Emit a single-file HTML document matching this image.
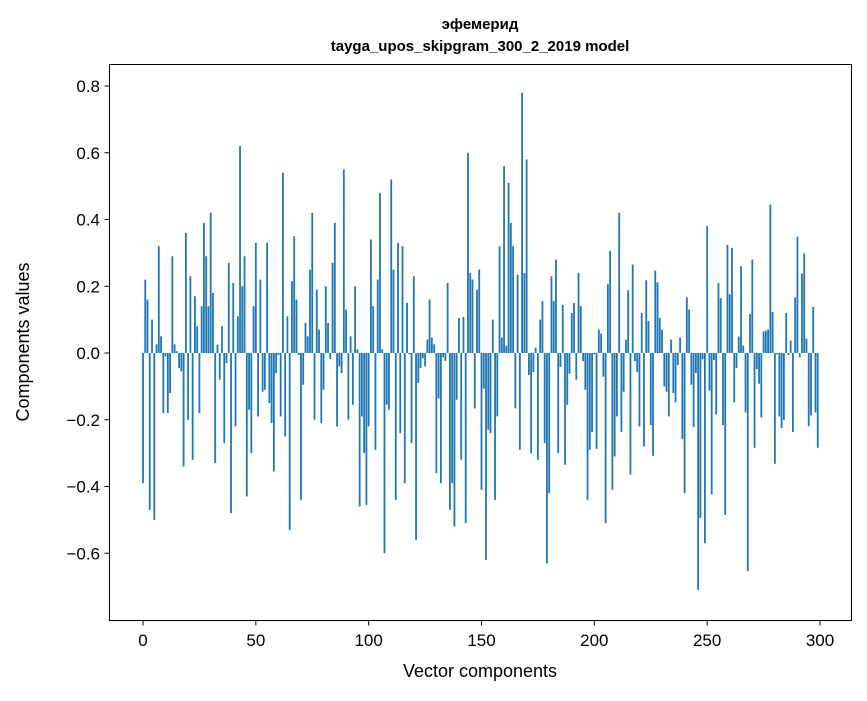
<!DOCTYPE html>
<html><head><meta charset="utf-8">
<style>
html,body{margin:0;padding:0;background:#fff;}
svg text{font-family:"Liberation Sans","DejaVu Sans",sans-serif;}
</style></head>
<body>
<svg id="chart" width="867" height="696" xmlns="http://www.w3.org/2000/svg">
<rect x="0" y="0" width="867" height="696" fill="#fff"/>
<text x="480" y="29" text-anchor="middle" font-size="15" font-weight="bold">эфемерид</text>
<text x="480" y="51" text-anchor="middle" font-size="15" font-weight="bold">tayga_upos_skipgram_300_2_2019 model</text>
<g id="bars"></g>
<g id="axes"></g>
<rect x="109.5" y="64.5" width="742" height="556" fill="none" stroke="#000" stroke-width="1"/>
<text x="480" y="677" text-anchor="middle" font-size="18">Vector components</text>
<text transform="translate(29,342) rotate(-90)" text-anchor="middle" font-size="18">Components values</text>
</svg>
<script>
const values = [
-0.39,0.22,0.16,-0.47,0.10,-0.50,0.026,0.32,0.05,-0.18,
-0.01,-0.18,-0.12,0.29,0.026,0.005,-0.045,-0.055,-0.34,0.36,
-0.20,0.23,-0.32,0.17,0.08,-0.18,0.14,0.39,0.29,0.14,
0.42,0.18,-0.33,0.025,-0.08,0.08,-0.27,-0.03,0.27,-0.48,
0.21,-0.22,0.11,0.62,0.20,0.29,-0.43,-0.17,-0.30,0.14,
0.33,-0.19,0.22,-0.116,-0.11,0.33,-0.15,-0.21,-0.355,-0.06,
-0.006,-0.19,0.54,-0.25,0.11,-0.53,0.215,0.35,0.16,-0.006,
-0.44,-0.095,0.09,0.05,0.25,0.42,-0.20,0.19,0.07,-0.21,
-0.11,0.20,0.09,-0.018,0.27,0.39,-0.22,-0.04,-0.06,0.55,
0.13,-0.20,0.05,-0.155,0.20,0.011,-0.46,-0.19,-0.30,-0.455,
-0.22,0.34,0.14,-0.29,0.22,0.48,0.011,-0.60,-0.155,-0.17,
0.52,0.25,-0.44,0.33,-0.24,0.32,-0.39,0.15,-0.004,-0.27,
0.23,-0.56,-0.09,-0.045,-0.016,-0.04,0.04,0.16,0.046,0.026,
-0.36,-0.136,-0.39,-0.013,-0.024,0.21,-0.47,-0.39,-0.52,-0.14,
0.105,-0.32,0.108,-0.51,0.60,0.24,0.22,-0.166,0.19,0.25,
-0.41,-0.107,-0.62,-0.23,-0.24,0.10,-0.44,-0.19,0.32,0.046,
0.56,0.022,0.51,0.39,0.32,-0.166,0.235,-0.29,0.78,0.24,
0.58,-0.066,-0.30,-0.057,0.016,-0.32,0.10,0.156,-0.27,-0.63,
-0.42,0.23,0.156,0.28,-0.30,-0.042,0.144,-0.335,-0.155,-0.062,
0.12,0.15,-0.08,0.24,0.14,-0.024,-0.11,-0.44,-0.29,-0.237,
-0.004,-0.287,0.07,0.058,-0.071,-0.51,0.206,0.306,-0.41,-0.31,
-0.19,0.42,-0.237,-0.116,0.04,0.188,-0.364,0.265,-0.024,-0.057,
-0.22,0.12,-0.28,0.218,0.096,-0.216,-0.308,0.247,0.212,0.105,
0.07,-0.10,-0.116,-0.19,0.04,-0.12,-0.148,-0.036,0.046,-0.258,
-0.42,0.167,0.13,-0.095,-0.222,-0.06,-0.71,-0.494,-0.019,-0.57,
0.38,-0.113,-0.423,-0.021,-0.184,0.21,0.164,-0.216,-0.485,0.324,
0.176,0.315,-0.148,-0.045,0.049,0.26,0.022,-0.178,-0.653,0.117,
0.28,-0.284,-0.048,-0.092,-0.193,0.064,0.067,0.07,0.445,0.123,
-0.332,-0.004,-0.19,-0.225,-0.20,0.12,-0.006,0.037,-0.237,0.167,
0.348,-0.013,0.238,0.298,0.043,-0.219,-0.187,0.138,-0.178,-0.284
];
const xTicks = [0,50,100,150,200,250,300];
const yTicks = [-0.6,-0.4,-0.2,0.0,0.2,0.4,0.6,0.8];
const yTickLabels = ["\u22120.6","\u22120.4","\u22120.2","0.0","0.2","0.4","0.6","0.8"];

const NS = "http://www.w3.org/2000/svg";
function xScale(i){ return 143 + i * (677/300); }
function yScale(v){ return 353 - v * 333.75; }
const barW = 0.8 * (677/300);
const gb = document.getElementById('bars');
values.forEach((v,i)=>{
  const r = document.createElementNS(NS,'rect');
  const y0 = yScale(0), y1 = yScale(v);
  r.setAttribute('x', xScale(i) - barW/2);
  r.setAttribute('y', Math.min(y0,y1));
  r.setAttribute('width', barW);
  r.setAttribute('height', Math.max(Math.abs(y1-y0),0.3));
  r.setAttribute('fill', '#1f77b4');
  
  
  gb.appendChild(r);
});
const ga = document.getElementById('axes');
xTicks.forEach(t=>{
  const x = xScale(t);
  const l = document.createElementNS(NS,'line');
  l.setAttribute('x1',x); l.setAttribute('x2',x);
  l.setAttribute('y1',620.5); l.setAttribute('y2',625.5);
  l.setAttribute('stroke','#000');
  
  
  ga.appendChild(l);
  const tx = document.createElementNS(NS,'text');
  tx.setAttribute('x',x); tx.setAttribute('y',646);
  tx.setAttribute('text-anchor','middle'); tx.setAttribute('font-size','17');
  tx.textContent = String(t);
  
  
  ga.appendChild(tx);
});
yTicks.forEach((t,k)=>{
  const y = yScale(t);
  const l = document.createElementNS(NS,'line');
  l.setAttribute('x1',104.5); l.setAttribute('x2',109.5);
  l.setAttribute('y1',y); l.setAttribute('y2',y);
  l.setAttribute('stroke','#000');
  
  
  ga.appendChild(l);
  const tx = document.createElementNS(NS,'text');
  tx.setAttribute('x',100); tx.setAttribute('y',y+6);
  tx.setAttribute('text-anchor','end'); tx.setAttribute('font-size','17');
  tx.textContent = yTickLabels[k];
  
  
  ga.appendChild(tx);
});
</script>
</body></html>
